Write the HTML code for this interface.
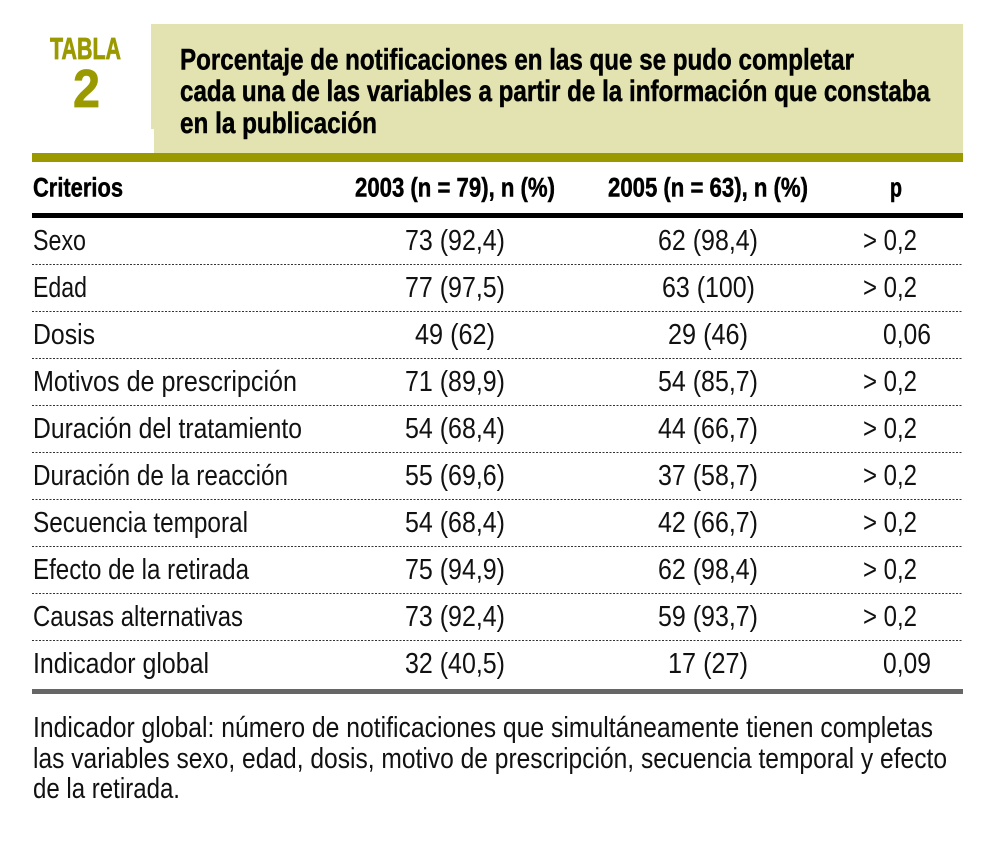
<!DOCTYPE html>
<html lang="es"><head><meta charset="utf-8"><title>Tabla 2</title>
<style>
html,body{margin:0;padding:0;background:#fff}
svg{display:block}
text{font-family:"Liberation Sans",Arial,sans-serif;fill:#111;font-size:28.5px}
.b{font-weight:bold;fill:#000;stroke:#000;stroke-width:.5px}
.t{font-size:30px}
.h{font-size:27px}
.o{font-weight:bold;fill:#9a9a00;stroke:#9a9a00;stroke-width:.8px}
.d{stroke:#333;stroke-width:1;stroke-dasharray:2 1.5}
</style></head><body>
<svg xmlns="http://www.w3.org/2000/svg" width="989" height="846" viewBox="0 0 989 846">
<rect width="989" height="846" fill="#fff"/>
<rect x="151" y="24" width="812" height="105" fill="#e3e3b1"/>
<rect x="154" y="129" width="809" height="24" fill="#e3e3b1"/>
<rect x="32" y="153" width="931" height="9" fill="#9a9a00"/>
<rect x="32" y="213" width="931" height="5" fill="#000"/>
<rect x="32" y="689" width="931" height="5" fill="#666"/>

<text x="50" y="59" class="o" style="font-size:31px" textLength="71" lengthAdjust="spacingAndGlyphs">TABLA</text>
<text x="73" y="107" class="o" style="font-size:54px" textLength="27" lengthAdjust="spacingAndGlyphs">2</text>

<text x="180" y="69.5" class="b t" textLength="674" lengthAdjust="spacingAndGlyphs">Porcentaje de notificaciones en las que se pudo completar</text>
<text x="180" y="101" class="b t" textLength="750" lengthAdjust="spacingAndGlyphs">cada una de las variables a partir de la información que constaba</text>
<text x="180" y="133" class="b t" textLength="197" lengthAdjust="spacingAndGlyphs">en la publicación</text>

<text x="33" y="196.5" class="b h" textLength="90" lengthAdjust="spacingAndGlyphs">Criterios</text>
<text x="355" y="196.5" class="b h" textLength="200" lengthAdjust="spacingAndGlyphs">2003 (n = 79), n (%)</text>
<text x="608" y="196.5" class="b h" textLength="200" lengthAdjust="spacingAndGlyphs">2005 (n = 63), n (%)</text>
<text x="890" y="196.5" class="b h" textLength="12" lengthAdjust="spacingAndGlyphs">p</text>

<line class="d" x1="32" x2="963" y1="264.5" y2="264.5"/>
<line class="d" x1="32" x2="963" y1="311.5" y2="311.5"/>
<line class="d" x1="32" x2="963" y1="358.5" y2="358.5"/>
<line class="d" x1="32" x2="963" y1="405.5" y2="405.5"/>
<line class="d" x1="32" x2="963" y1="452.5" y2="452.5"/>
<line class="d" x1="32" x2="963" y1="499.5" y2="499.5"/>
<line class="d" x1="32" x2="963" y1="546.5" y2="546.5"/>
<line class="d" x1="32" x2="963" y1="593.5" y2="593.5"/>
<line class="d" x1="32" x2="963" y1="640.5" y2="640.5"/>

<g>
<text x="33" y="250" textLength="53" lengthAdjust="spacingAndGlyphs">Sexo</text>
<text x="405" y="250" textLength="100" lengthAdjust="spacingAndGlyphs">73 (92,4)</text>
<text x="658" y="250" textLength="100" lengthAdjust="spacingAndGlyphs">62 (98,4)</text>
<text x="863" y="250" textLength="54" lengthAdjust="spacingAndGlyphs">&gt; 0,2</text>
</g>
<g>
<text x="33" y="297" textLength="54" lengthAdjust="spacingAndGlyphs">Edad</text>
<text x="405" y="297" textLength="100" lengthAdjust="spacingAndGlyphs">77 (97,5)</text>
<text x="662" y="297" textLength="93" lengthAdjust="spacingAndGlyphs">63 (100)</text>
<text x="863" y="297" textLength="54" lengthAdjust="spacingAndGlyphs">&gt; 0,2</text>
</g>
<g>
<text x="33" y="344" textLength="62" lengthAdjust="spacingAndGlyphs">Dosis</text>
<text x="415" y="344" textLength="80" lengthAdjust="spacingAndGlyphs">49 (62)</text>
<text x="668" y="344" textLength="80" lengthAdjust="spacingAndGlyphs">29 (46)</text>
<text x="883" y="344" textLength="48" lengthAdjust="spacingAndGlyphs">0,06</text>
</g>
<g>
<text x="33" y="391" textLength="264" lengthAdjust="spacingAndGlyphs">Motivos de prescripción</text>
<text x="405" y="391" textLength="100" lengthAdjust="spacingAndGlyphs">71 (89,9)</text>
<text x="658" y="391" textLength="100" lengthAdjust="spacingAndGlyphs">54 (85,7)</text>
<text x="863" y="391" textLength="54" lengthAdjust="spacingAndGlyphs">&gt; 0,2</text>
</g>
<g>
<text x="33" y="438" textLength="269" lengthAdjust="spacingAndGlyphs">Duración del tratamiento</text>
<text x="405" y="438" textLength="100" lengthAdjust="spacingAndGlyphs">54 (68,4)</text>
<text x="658" y="438" textLength="100" lengthAdjust="spacingAndGlyphs">44 (66,7)</text>
<text x="863" y="438" textLength="54" lengthAdjust="spacingAndGlyphs">&gt; 0,2</text>
</g>
<g>
<text x="33" y="485" textLength="255" lengthAdjust="spacingAndGlyphs">Duración de la reacción</text>
<text x="405" y="485" textLength="100" lengthAdjust="spacingAndGlyphs">55 (69,6)</text>
<text x="658" y="485" textLength="100" lengthAdjust="spacingAndGlyphs">37 (58,7)</text>
<text x="863" y="485" textLength="54" lengthAdjust="spacingAndGlyphs">&gt; 0,2</text>
</g>
<g>
<text x="33" y="532" textLength="215" lengthAdjust="spacingAndGlyphs">Secuencia temporal</text>
<text x="405" y="532" textLength="100" lengthAdjust="spacingAndGlyphs">54 (68,4)</text>
<text x="658" y="532" textLength="100" lengthAdjust="spacingAndGlyphs">42 (66,7)</text>
<text x="863" y="532" textLength="54" lengthAdjust="spacingAndGlyphs">&gt; 0,2</text>
</g>
<g>
<text x="33" y="579" textLength="216" lengthAdjust="spacingAndGlyphs">Efecto de la retirada</text>
<text x="405" y="579" textLength="100" lengthAdjust="spacingAndGlyphs">75 (94,9)</text>
<text x="658" y="579" textLength="100" lengthAdjust="spacingAndGlyphs">62 (98,4)</text>
<text x="863" y="579" textLength="54" lengthAdjust="spacingAndGlyphs">&gt; 0,2</text>
</g>
<g>
<text x="33" y="626" textLength="210" lengthAdjust="spacingAndGlyphs">Causas alternativas</text>
<text x="405" y="626" textLength="100" lengthAdjust="spacingAndGlyphs">73 (92,4)</text>
<text x="658" y="626" textLength="100" lengthAdjust="spacingAndGlyphs">59 (93,7)</text>
<text x="863" y="626" textLength="54" lengthAdjust="spacingAndGlyphs">&gt; 0,2</text>
</g>
<g>
<text x="33" y="673" textLength="176" lengthAdjust="spacingAndGlyphs">Indicador global</text>
<text x="405" y="673" textLength="100" lengthAdjust="spacingAndGlyphs">32 (40,5)</text>
<text x="668" y="673" textLength="80" lengthAdjust="spacingAndGlyphs">17 (27)</text>
<text x="883" y="673" textLength="48" lengthAdjust="spacingAndGlyphs">0,09</text>
</g>

<text x="33" y="737" textLength="900" lengthAdjust="spacingAndGlyphs">Indicador global: número de notificaciones que simultáneamente tienen completas</text>
<text x="33" y="768" textLength="914" lengthAdjust="spacingAndGlyphs">las variables sexo, edad, dosis, motivo de prescripción, secuencia temporal y efecto</text>
<text x="33" y="798" textLength="147" lengthAdjust="spacingAndGlyphs">de la retirada.</text>
</svg>
</body></html>
